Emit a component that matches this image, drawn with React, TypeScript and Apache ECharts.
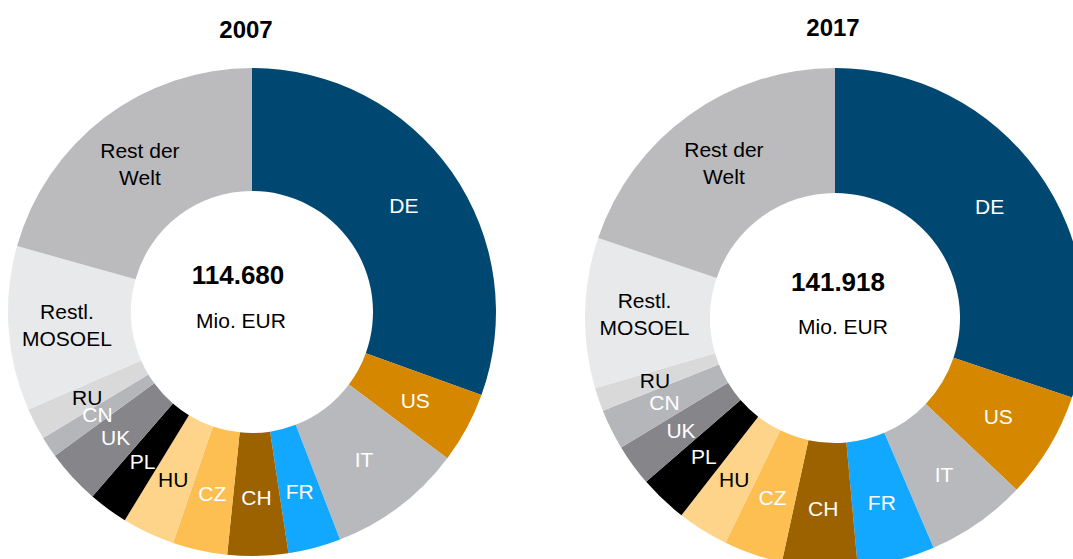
import React, { useEffect, useRef } from "react";
import * as echarts from "echarts";

const categories = ["DE", "US", "IT", "FR", "CH", "CZ", "HU", "PL", "UK", "CN", "RU", "Restl.\nMOSOEL", "Rest der\nWelt"];
const values2007 = [35000, 5400, 10200, 4000, 4600, 4150, 4000, 3000, 4150, 1600, 2400, 12500, 23680];
const values2017 = [42800, 9800, 9200, 7100, 6900, 5400, 4700, 4400, 3850, 3700, 2150, 13800, 28118];
const sliceColors = ["#004872", "#D58700", "#B8B9BC", "#13A8FF", "#9C6200", "#FDBE52", "#FDD48A", "#000000", "#86858A", "#B5B6B9", "#D9D9DA", "#E8E9EB", "#BBBBBD"];
const labelColors = ["#fff", "#fff", "#fff", "#fff", "#fff", "#fff", "#000", "#fff", "#fff", "#fff", "#000", "#000", "#000"];
const titles = ["2007", "2017"];
const totals = ["114.680", "141.918"];
const unit = "Mio. EUR";

const FONT = "Liberation Sans, Arial, sans-serif";

function buildData(values: number[]) {
  return categories.map((name, i) => ({
    name,
    value: values[i],
    itemStyle: { color: sliceColors[i] },
    label: { color: labelColors[i] },
  }));
}

export default function App() {
  const ref = useRef<HTMLDivElement>(null);
  useEffect(() => {
    if (!ref.current) return;
    const chart = echarts.init(ref.current, undefined, { renderer: "svg" });
    const pieBase = {
      type: "pie" as const,
      startAngle: 90,
      clockwise: true,
      avoidLabelOverlap: false,
      minShowLabelAngle: 0,
      silent: true,
      label: {
        show: true,
        position: "inside" as const,
        formatter: "{b}",
        fontSize: 21,
        lineHeight: 27,
        fontFamily: FONT,
        overflow: "none",
      },
      labelLayout: { hideOverlap: false },
      labelLine: { show: false },
      itemStyle: { borderWidth: 0 },
    };
    chart.setOption({
      animation: false,
      backgroundColor: "#ffffff",
      series: [
        { ...pieBase, center: [252, 312], radius: [121, 244], data: buildData(values2007) },
        { ...pieBase, center: [835, 318], radius: [125, 250], data: buildData(values2017) },
      ],
      graphic: [
        { type: "text", x: 246, y: 29, style: { text: titles[0], font: `bold 24px ${FONT}`, fill: "#000", textAlign: "center", textVerticalAlign: "middle" } },
        { type: "text", x: 833, y: 27, style: { text: titles[1], font: `bold 24px ${FONT}`, fill: "#000", textAlign: "center", textVerticalAlign: "middle" } },
        { type: "text", x: 238, y: 275, style: { text: totals[0], font: `bold 26px ${FONT}`, fill: "#000", textAlign: "center", textVerticalAlign: "middle" } },
        { type: "text", x: 241, y: 320, style: { text: unit, font: `21px ${FONT}`, fill: "#000", textAlign: "center", textVerticalAlign: "middle" } },
        { type: "text", x: 838, y: 282, style: { text: totals[1], font: `bold 26px ${FONT}`, fill: "#000", textAlign: "center", textVerticalAlign: "middle" } },
        { type: "text", x: 843, y: 326, style: { text: unit, font: `21px ${FONT}`, fill: "#000", textAlign: "center", textVerticalAlign: "middle" } },
      ],
    });
    return () => chart.dispose();
  }, []);
  return <div ref={ref} style={{ position: "fixed", left: 0, top: 0, width: 1073, height: 559 }} />;
}
